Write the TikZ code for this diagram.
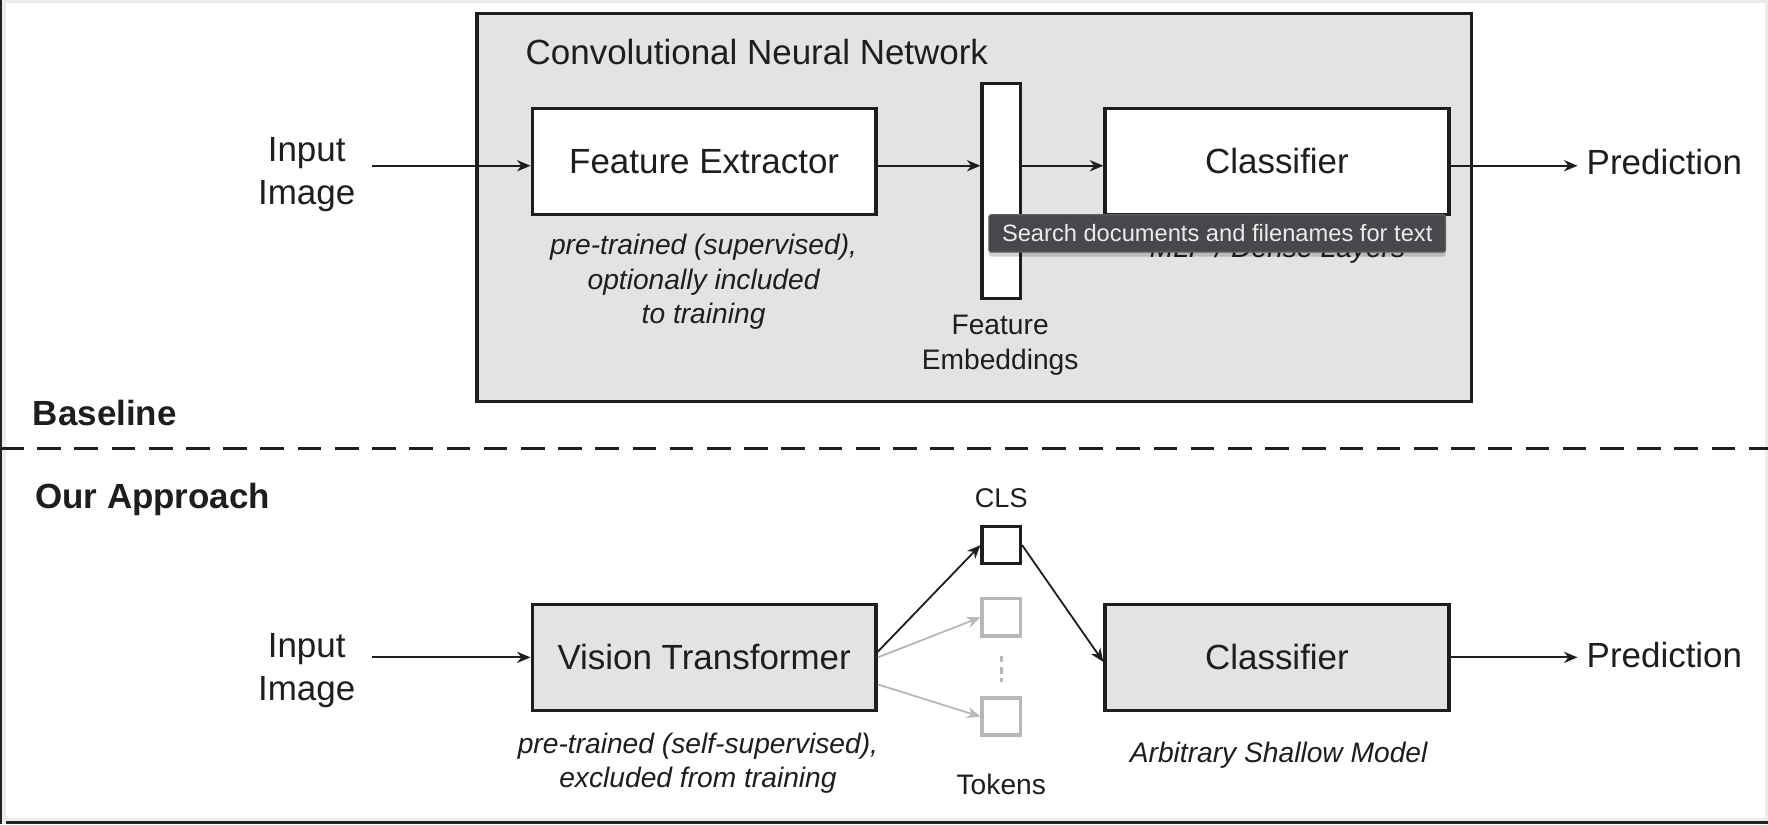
\documentclass[tikz,border=0pt]{standalone}
\usepackage{fontspec}
\setmainfont{Liberation Sans}
\usetikzlibrary{arrows.meta,shadows}
\definecolor{boxgray}{HTML}{E3E3E3}
\definecolor{edge}{HTML}{1E1E1E}
\definecolor{tokgray}{HTML}{B8B8B8}
\definecolor{tipbg}{HTML}{48484C}
\definecolor{tipedge}{HTML}{606064}
\definecolor{framelight}{HTML}{ECECEC}
\definecolor{framedark}{HTML}{222222}
\tikzset{
  big/.style={font=\fontsize{31}{38}\selectfont, inner sep=0pt, align=center, text=edge},
  note/.style={font=\fontsize{25}{30.5}\selectfont\itshape, inner sep=0pt, align=center, text=edge},
  plain/.style={font=\fontsize{25}{30.5}\selectfont, inner sep=0pt, align=center, text=edge},
  head/.style={font=\fontsize{31}{38}\selectfont\bfseries, inner sep=0pt, anchor=west, text=edge},
  blockbox/.style={draw=edge, line width=3pt, minimum width=305pt, minimum height=94pt, inner sep=0pt,
    font=\fontsize{31}{38}\selectfont, text=edge},
  tokbox/.style={draw=edge, fill=white, line width=3pt, minimum width=34pt, minimum height=33pt, inner sep=0pt},
  arr/.style={-{Stealth[length=12pt,width=10pt]}, line width=1.6pt, draw=edge},
  grayarr/.style={-{Stealth[length=12pt,width=10pt]}, line width=1.6pt, draw=tokgray},
}
\begin{document}
\begin{tikzpicture}[x=1pt,y=-1pt]
\useasboundingbox (0,0) rectangle (1568,731);
% screenshot frame
\fill[white] (0,0) rectangle (1568,731);
\fill[framelight] (0,0) rectangle (1568,2.4);
\fill[framelight] (1565,0) rectangle (1568,731);
\fill[framelight] (0,725.8) rectangle (1568,728.4);
\fill[framedark] (0,728.4) rectangle (1568,731);
\fill[framelight] (1.8,0) rectangle (5,731);
\fill[framedark] (0,0) rectangle (1.8,731);

% ---------- Baseline ----------
\node[draw=edge, fill=boxgray, line width=3pt, minimum width=882pt, minimum height=344pt, inner sep=0pt] (cnn) at (864,184) {};
\node[big, anchor=west] (cnntitle) at (466,46) {Convolutional Neural Network};

\node[big] (in1) at (272,155) {Input\\Image};
\node[blockbox, fill=white] (fe) at (624.5,143) {Feature Extractor};
\node[note] (fenote) at (624,250) {pre-trained (supervised),\\optionally included\\to training};
\node[draw=edge, fill=white, line width=3pt, minimum width=34pt, minimum height=191pt, inner sep=0pt] (emb) at (888,169.5) {};
\node[plain] (embl) at (887,306) {Feature\\Embeddings};
\node[blockbox, fill=white] (cl1) at (1132.5,143) {Classifier};
\node[note] (mlp) at (1133,222) {MLP / Dense Layers};
\node[big, anchor=west] (pred1) at (1407,144) {Prediction};

\draw[arr, shorten <=15pt] (in1.east |- 0,147) -- (fe.west |- 0,147);
\draw[arr] (fe.east |- 0,147) -- (emb.west |- 0,147);
\draw[arr] (emb.east |- 0,147) -- (cl1.west |- 0,147);
\draw[arr] (cl1.east |- 0,147) -- ([xshift=-8pt]pred1.west |- 0,147);

% tooltip overlay
\node[fill=tipbg, draw=tipedge, line width=1pt, rounded corners=2pt, minimum width=405pt, minimum height=33pt,
  inner sep=0pt, text=white!92!black, font=\fontsize{21}{24}\selectfont,
  drop shadow={shadow xshift=0pt, shadow yshift=-4pt, opacity=0.18, fill=black}] (tip) at (1079.5,207) {Search documents and filenames for text};

\node[head] (baseline) at (29,366) {Baseline};

% divider
\coordinate (dl) at (0,398);
\coordinate (dr) at (1568,398);
\draw[edge, line width=3pt, dash pattern=on 21pt off 12pt] (dl) -- (dr);

% ---------- Our Approach ----------
\node[head] (ours) at (31,443) {Our Approach};

\node[big] (in2) at (272,595) {Input\\Image};
\node[blockbox, fill=boxgray] (vit) at (624.5,583) {Vision Transformer};
\node[note] (vitnote) at (619,677) {pre-trained (self-supervised),\\excluded from training};

\node[plain, font=\fontsize{24}{28}\selectfont] (clsl) at (888,442) {CLS};
\node[tokbox] (cls) at (888,483.5) {};
\node[tokbox, draw=tokgray] (tok1) at (888,547.5) {};
\node[tokbox, draw=tokgray] (tok2) at (888,635.5) {};
\draw[tokgray, line width=3pt, dash pattern=on 6pt off 4pt, shorten <=16pt, shorten >=13pt] (tok1.south) -- (tok2.north);
\node[plain] (tokl) at (888,696) {Tokens};

\node[blockbox, fill=boxgray] (cl2) at (1132.5,583) {Classifier};
\node[note] (asm) at (1134,670) {Arbitrary Shallow Model};
\node[big, anchor=west] (pred2) at (1407,581) {Prediction};

\draw[arr, shorten <=15pt] (in2.east |- vit.west) -- (vit.west);
\draw[arr] ([yshift=5pt]vit.east) -- (cls.west);
\draw[grayarr] (vit.east) -- (tok1.west);
\draw[grayarr] ([yshift=-24pt]vit.east) -- (tok2.west);
\draw[arr] (cls.east) -- ([yshift=-4pt]cl2.west);
\draw[arr] (cl2.east) -- ([xshift=-8pt]pred2.west |- cl2.east);
\end{tikzpicture}
\end{document}
